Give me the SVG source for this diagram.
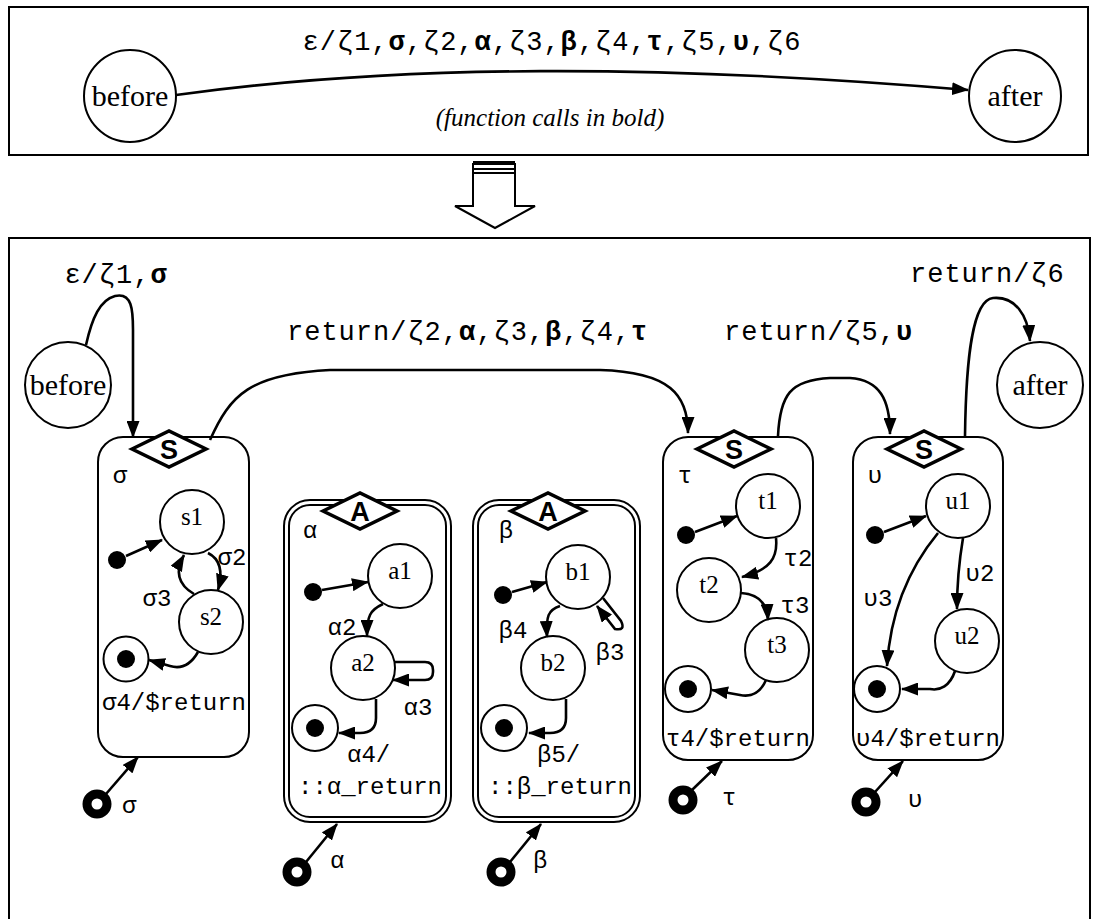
<svg xmlns="http://www.w3.org/2000/svg" width="1097" height="919" viewBox="0 0 1097 919">
<style>
.frame{fill:none;stroke:#000;stroke-width:2}
.st{fill:#fff;stroke:#000;stroke-width:2}
.box{fill:#fff;stroke:#000;stroke-width:2}
.dia{fill:#fff;stroke:#000;stroke-width:3.5}
.e{fill:none;stroke:#000;stroke-width:2.6;marker-end:url(#ah)}
.sn{font-family:"Liberation Serif",serif;font-size:25px;text-anchor:middle}
.big{font-family:"Liberation Serif",serif;font-size:30px;text-anchor:middle}
.mono{font-family:"Liberation Mono",monospace;font-size:27px;letter-spacing:1px}
.ml{font-family:"Liberation Mono",monospace;font-size:24px}
.dl{font-family:"Liberation Sans",Arial,sans-serif;font-size:27px;font-weight:bold;text-anchor:middle}
.tok{fill:#fff;stroke:#000;stroke-width:9}
</style>
<defs>
<marker id="ah" markerUnits="userSpaceOnUse" markerWidth="17" markerHeight="13" refX="16" refY="6.5" orient="auto">
<path d="M0,0 L17,6.5 L0,13 Z" fill="#000"/>
</marker>
</defs>
<rect width="1097" height="919" fill="#fff"/>

<!-- top panel -->
<g id="top-frame"><rect class="frame" x="9" y="7" width="1079" height="148"/></g>
<g id="top-before"><circle class="st" cx="130" cy="96" r="46"/><text class="big" x="130" y="106">before</text></g>
<g id="top-after"><circle class="st" cx="1015" cy="96" r="46"/><text class="big" x="1015" y="106">after</text></g>
<g id="top-connectors">
<path class="e" d="M176,95 C400,64 660,64 968,90"/>
<text class="mono" x="552" y="50" font-size="31" letter-spacing="1.2" text-anchor="middle">ε/ζ1,<tspan font-weight="bold">σ</tspan>,ζ2,<tspan font-weight="bold">α</tspan>,ζ3,<tspan font-weight="bold">β</tspan>,ζ4,<tspan font-weight="bold">τ</tspan>,ζ5,<tspan font-weight="bold">υ</tspan>,ζ6</text>
<text x="550" y="126" font-family="Liberation Serif,serif" font-size="25" font-style="italic" text-anchor="middle">(function calls in bold)</text>
</g>

<!-- hollow arrow -->
<g id="transform-arrow">
<path d="M473,163 L473,206 L455,206 L495,228 L535,206 L515,206 L515,163" fill="#fff" stroke="#000" stroke-width="2"/>
<line x1="473" y1="163" x2="515" y2="163" stroke="#000" stroke-width="4"/>
<line x1="473" y1="169" x2="515" y2="169" stroke="#000" stroke-width="2"/>
<line x1="473" y1="173" x2="515" y2="173" stroke="#000" stroke-width="2"/>
</g>

<!-- lower panel -->
<g id="bottom-frame"><rect class="frame" x="9" y="238" width="1081" height="700"/></g>

<g id="before"><circle class="st" cx="68" cy="385" r="43"/><text class="big" x="68" y="395" font-size="29">before</text></g>
<g id="after"><circle class="st" cx="1040" cy="385" r="43"/><text class="big" x="1040" y="395" font-size="29">after</text></g>

<!-- sigma -->
<g id="sigma">
<rect class="box" x="98" y="437" width="151" height="320" rx="25"/>
<polygon class="dia" points="132,449 169,431 206,449 169,467"/>
<text class="dl" x="169" y="459">S</text>
<text class="ml" x="120" y="483" text-anchor="middle">σ</text>
<circle class="st" cx="192" cy="522" r="32"/><text class="sn" x="192" y="525">s1</text>
<circle class="st" cx="211" cy="622" r="32"/><text class="sn" x="211" y="625">s2</text>
<circle cx="117" cy="560" r="9"/>
<circle class="st" cx="126" cy="659" r="22.5"/><circle cx="126" cy="659" r="9"/>
<path class="e" d="M126,556 L162,540"/>
<path class="e" d="M208,553 Q226,562 218,590"/>
<path class="e" d="M194,594 Q170,580 184,555"/>
<path class="e" d="M198,652 C190,666 180,669 170,666 L149,660"/>
<text class="ml" x="232" y="565" text-anchor="middle">σ2</text>
<text class="ml" x="157" y="606" text-anchor="middle">σ3</text>
<text class="ml" x="174" y="710" text-anchor="middle">σ4/$return</text>
<circle class="tok" cx="97" cy="804" r="10"/>
<path class="e" d="M106,794 L138,757"/>
<text class="ml" x="122" y="813">σ</text>
</g>

<!-- alpha -->
<g id="alpha">
<rect class="box" x="284" y="500" width="167" height="322" rx="26"/>
<rect class="box" x="289" y="505" width="157" height="312" rx="21"/>
<polygon class="dia" points="323,511 360,493 397,511 360,529"/>
<text class="dl" x="360" y="521">A</text>
<text class="ml" x="310" y="538" text-anchor="middle">α</text>
<circle class="st" cx="400" cy="576" r="32"/><text class="sn" x="400" y="579">a1</text>
<circle class="st" cx="363" cy="668" r="32"/><text class="sn" x="363" y="671">a2</text>
<circle cx="313" cy="592" r="9"/>
<circle class="st" cx="315" cy="728" r="23"/><circle cx="315" cy="728" r="9"/>
<path class="e" d="M322,590 L368,582"/>
<path class="e" d="M383,604 C370,610 367,616 367,636"/>
<path class="e" d="M395,662 L425,662 Q433,662 433,670 L433,672 Q433,680 425,680 L393,680"/>
<path class="e" d="M376,699 L376,718 Q376,733 360,733 L339,733"/>
<text class="ml" x="342" y="635" text-anchor="middle">α2</text>
<text class="ml" x="418" y="715" text-anchor="middle">α3</text>
<text class="ml" x="347" y="762">α4/</text>
<text class="ml" x="298" y="794">::α_return</text>
<circle class="tok" cx="297" cy="872" r="10"/>
<path class="e" d="M306,862 L337,824"/>
<text class="ml" x="330" y="868">α</text>
</g>

<!-- beta -->
<g id="beta">
<rect class="box" x="473" y="500" width="167" height="322" rx="26"/>
<rect class="box" x="478" y="505" width="157" height="312" rx="21"/>
<polygon class="dia" points="511,511 548,493 585,511 548,529"/>
<text class="dl" x="548" y="521">A</text>
<text class="ml" x="506" y="538" text-anchor="middle">β</text>
<circle class="st" cx="578" cy="577" r="32"/><text class="sn" x="578" y="580">b1</text>
<circle class="st" cx="553" cy="668" r="32"/><text class="sn" x="553" y="671">b2</text>
<circle cx="503" cy="595" r="9"/>
<circle class="st" cx="504" cy="728" r="23"/><circle cx="504" cy="728" r="9"/>
<path class="e" d="M512,592 L547,582"/>
<path class="e" d="M560,606 C548,610 546,616 547,637"/>
<path class="e" d="M603,598 L621,621 Q626,631 615,629 L597,606"/>
<path class="e" d="M566,699 L566,718 Q566,733 550,733 L529,733"/>
<text class="ml" x="513" y="638" text-anchor="middle">β4</text>
<text class="ml" x="610" y="660" text-anchor="middle">β3</text>
<text class="ml" x="537" y="762">β5/</text>
<text class="ml" x="488" y="794">::β_return</text>
<circle class="tok" cx="501" cy="872" r="10"/>
<path class="e" d="M510,862 L541,824"/>
<text class="ml" x="533" y="868">β</text>
</g>

<!-- tau -->
<g id="tau">
<rect class="box" x="663" y="437" width="150" height="323" rx="25"/>
<polygon class="dia" points="697,449 734,431 771,449 734,467"/>
<text class="dl" x="734" y="459">S</text>
<text class="ml" x="685" y="483" text-anchor="middle">τ</text>
<circle class="st" cx="768" cy="506" r="32"/><text class="sn" x="768" y="509">t1</text>
<circle class="st" cx="709" cy="590" r="32"/><text class="sn" x="709" y="593">t2</text>
<circle class="st" cx="777" cy="650" r="32"/><text class="sn" x="777" y="653">t3</text>
<circle cx="686" cy="535" r="9"/>
<circle class="st" cx="688" cy="689" r="23"/><circle cx="688" cy="689" r="9"/>
<path class="e" d="M695,532 L737,516"/>
<path class="e" d="M776,538 C778,558 770,570 742,577"/>
<path class="e" d="M741,593 C758,594 767,603 768,620"/>
<path class="e" d="M766,680 C760,694 750,697 740,695 L712,690"/>
<text class="ml" x="798" y="566" text-anchor="middle">τ2</text>
<text class="ml" x="795" y="613" text-anchor="middle">τ3</text>
<text class="ml" x="738" y="746" text-anchor="middle">τ4/$return</text>
<circle class="tok" cx="683" cy="800" r="10"/>
<path class="e" d="M692,790 L722,761"/>
<text class="ml" x="722" y="805">τ</text>
</g>

<!-- upsilon -->
<g id="upsilon">
<rect class="box" x="853" y="437" width="150" height="323" rx="25"/>
<polygon class="dia" points="887,449 924,431 961,449 924,467"/>
<text class="dl" x="924" y="459">S</text>
<text class="ml" x="875" y="483" text-anchor="middle">υ</text>
<circle class="st" cx="958" cy="506" r="32"/><text class="sn" x="958" y="509">u1</text>
<circle class="st" cx="967" cy="641" r="32"/><text class="sn" x="967" y="644">u2</text>
<circle cx="875" cy="535" r="9"/>
<circle class="st" cx="877" cy="689" r="23"/><circle cx="877" cy="689" r="9"/>
<path class="e" d="M884,532 L926,516"/>
<path class="e" d="M963,538 C958,568 957,592 957,609"/>
<path class="e" d="M938,533 C905,573 890,618 887,666"/>
<path class="e" d="M955,671 C950,686 940,691 930,689 L902,689"/>
<text class="ml" x="980" y="581" text-anchor="middle">υ2</text>
<text class="ml" x="878" y="606" text-anchor="middle">υ3</text>
<text class="ml" x="928" y="746" text-anchor="middle">υ4/$return</text>
<circle class="tok" cx="866" cy="802" r="10"/>
<path class="e" d="M875,792 L903,761"/>
<text class="ml" x="908" y="807">υ</text>
</g>

<!-- connectors -->
<g id="connectors">
<path class="e" d="M86,345 C92,318 100,300 115,296 C132,292 133,310 133,330 L133,437"/>
<text class="mono" x="116" y="283" text-anchor="middle" letter-spacing="1.5">ε/ζ1,<tspan font-weight="bold">σ</tspan></text>
<path class="e" d="M210,440 C230,395 250,374 330,370 L600,370 C670,372 688,395 688,433"/>
<text class="mono" x="287" y="340">return/ζ2,<tspan font-weight="bold">α</tspan>,ζ3,<tspan font-weight="bold">β</tspan>,ζ4,<tspan font-weight="bold">τ</tspan></text>
<path class="e" d="M778,436 C780,395 790,380 830,378 L850,378 C880,380 890,400 890,434"/>
<text class="mono" x="724" y="340">return/ζ5,<tspan font-weight="bold">υ</tspan></text>
<path class="e" d="M965,436 C966,360 972,300 993,298 C1015,296 1028,315 1030,341"/>
<text class="mono" x="910" y="282">return/ζ6</text>
</g>
</svg>
